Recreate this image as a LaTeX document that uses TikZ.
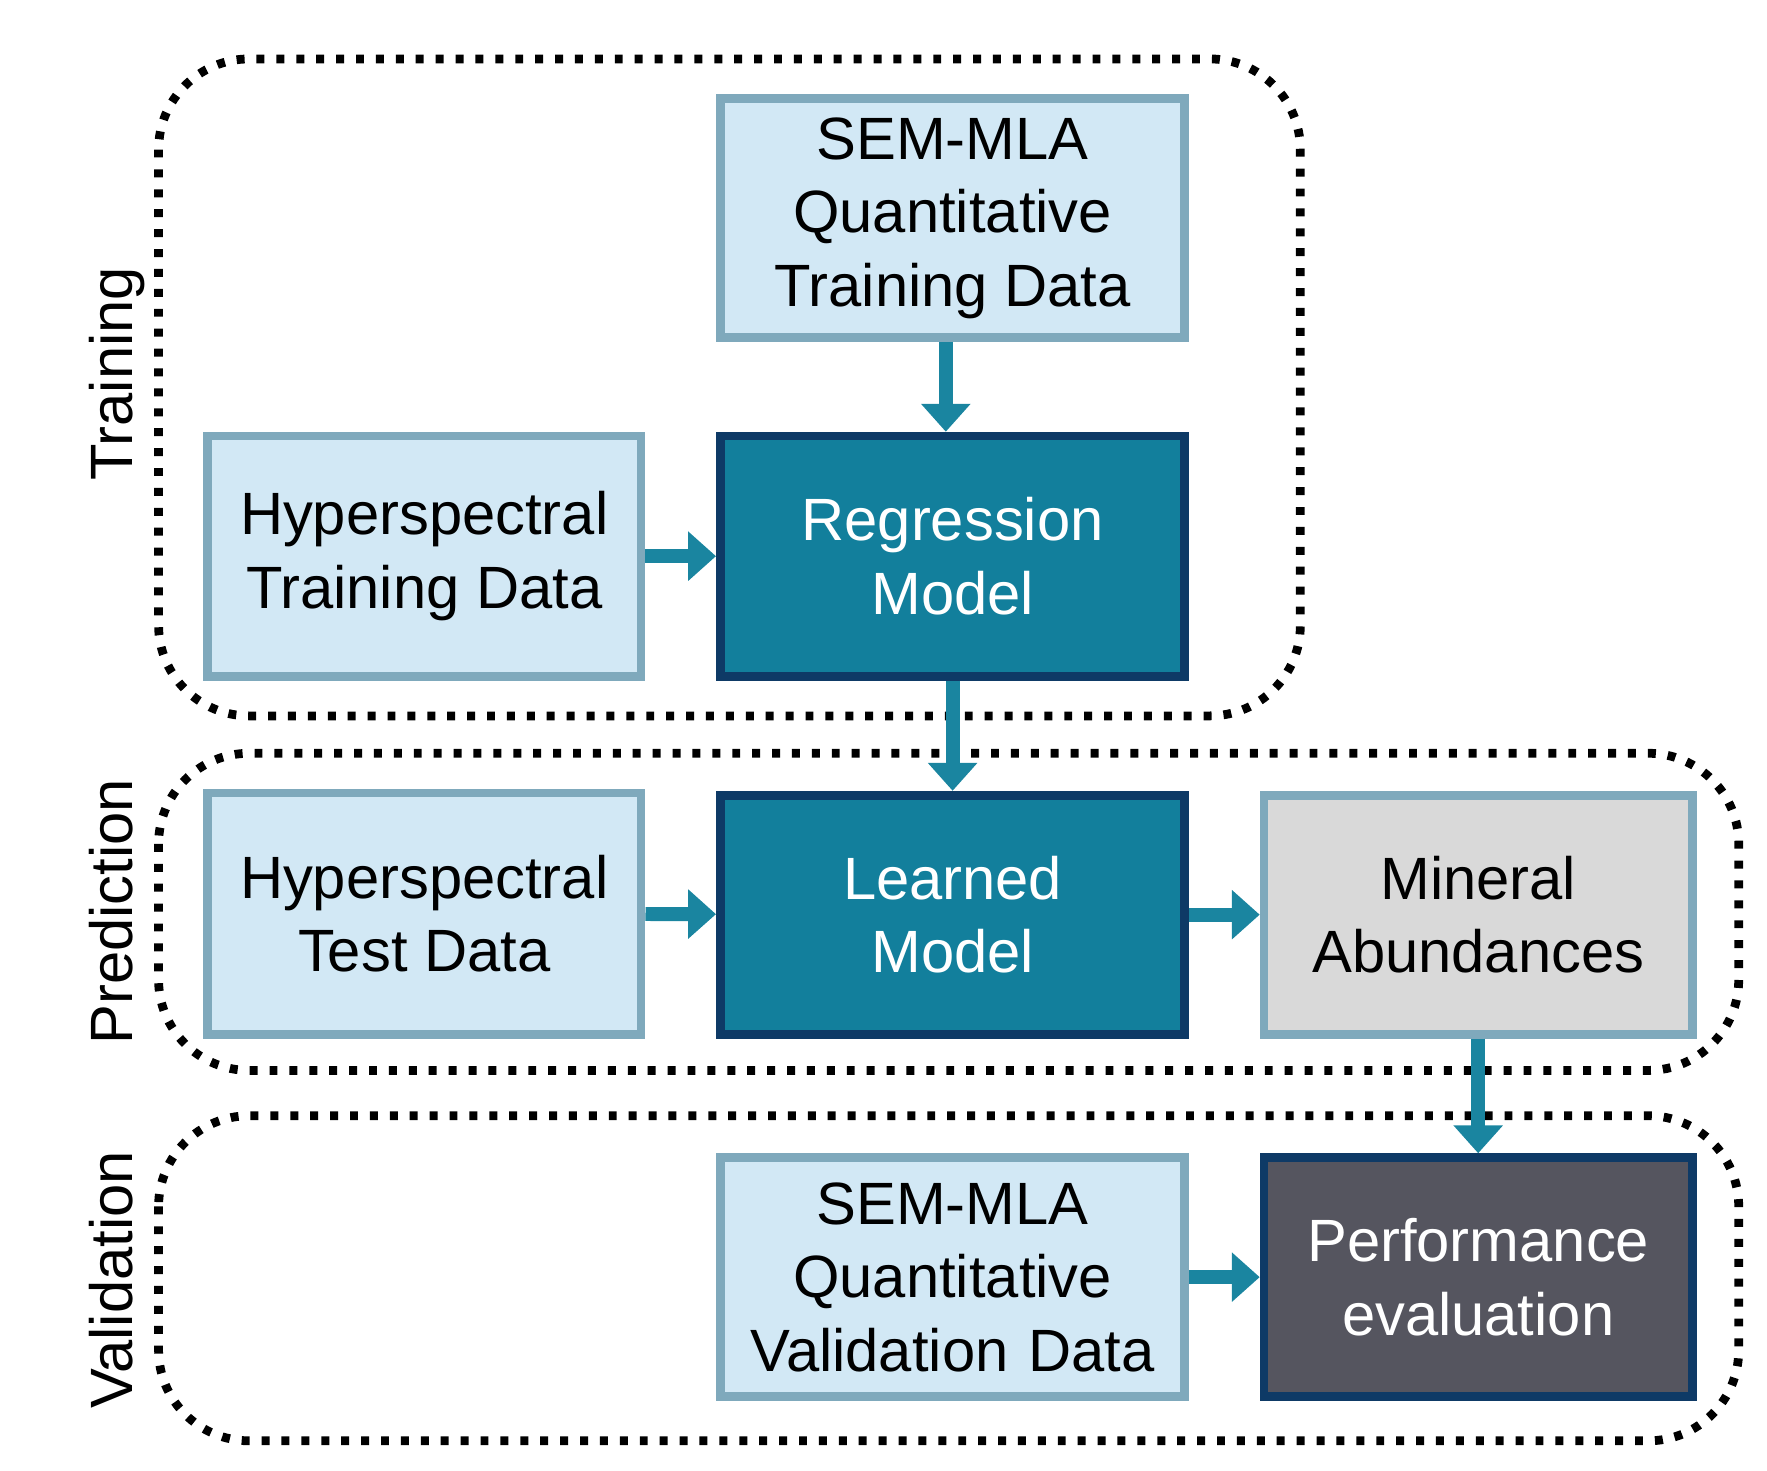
\documentclass[tikz,border=0pt]{standalone}
\usepackage{fontspec}
\setmainfont{Liberation Sans}
\usetikzlibrary{arrows.meta}
\definecolor{lb}{HTML}{D2E8F5}
\definecolor{lbd}{HTML}{7FA9BC}
\definecolor{teal}{HTML}{127F9C}
\definecolor{navy}{HTML}{0E3A66}
\definecolor{gr}{HTML}{D9D9D9}
\definecolor{dg}{HTML}{55555F}
\definecolor{arr}{HTML}{1A85A0}
\begin{document}
\begin{tikzpicture}[x=1cm,y=-1cm,
 box/.style={draw,line width=2.2pt,inner sep=0pt,align=center,font=\fontsize{15}{18.5}\selectfont},
 light/.style={box,fill=lb,draw=lbd,text=black},
 dark/.style={box,fill=teal,draw=navy,text=white},
 grey/.style={box,fill=gr,draw=lbd,text=black},
 perf/.style={box,fill=dg,draw=navy,text=white},
 grp/.style={draw,line width=2.2pt,dash pattern=on 2pt off 3pt,rounded corners=0.8cm},
 lab/.style={rotate=90,font=\fontsize{15}{18}\selectfont},
 ar/.style={draw=arr,line width=3.5pt,-{Triangle[length=7pt,width=12pt]}}]
\useasboundingbox (0,0) rectangle (15.6,12.98);
\draw[grp] (1.40,0.52) rectangle (11.48,6.32);
\draw[grp] (1.40,6.65) rectangle (15.35,9.45);
\draw[grp] (1.40,9.85) rectangle (15.35,12.72);
\node[lab] (lt) at (1.03,3.30) {Training};
\node[lab] (lp) at (0.98,8.05) {Prediction};
\node[lab] (lv) at (0.98,11.30) {Validation};
\node[light,minimum width=4.10cm,minimum height=2.11cm] (sem) at (8.41,1.925) {SEM-MLA\\Quantitative\\Training Data};
\node[light,minimum width=3.83cm,minimum height=2.12cm] (ht) at (3.745,4.91) {Hyperspectral\\Training Data};
\node[dark,minimum width=4.10cm,minimum height=2.12cm] (reg) at (8.41,4.91) {Regression\\Model};
\node[light,minimum width=3.83cm,minimum height=2.13cm] (hte) at (3.745,8.065) {Hyperspectral\\Test Data};
\node[dark,minimum width=4.10cm,minimum height=2.11cm] (lm) at (8.41,8.075) {Learned\\Model};
\node[grey,minimum width=3.78cm,minimum height=2.11cm] (min) at (13.05,8.075) {Mineral\\Abundances};
\node[light,minimum width=4.10cm,minimum height=2.11cm] (semv) at (8.41,11.275) {SEM-MLA\\Quantitative\\Validation\,\,Data};
\node[perf,minimum width=3.78cm,minimum height=2.11cm] (pe) at (13.05,11.275) {Performance\\evaluation};
\draw[ar] (sem.south -| 8.35,0) -- (reg.north -| 8.35,0);
\draw[ar] (ht) -- (reg);
\draw[ar] (reg.south) -- (lm.north);
\draw[ar] (hte) -- (lm);
\draw[ar] (lm) -- (min);
\draw[ar] (min) -- (pe);
\draw[ar] (semv) -- (pe);
\end{tikzpicture}
\end{document}
